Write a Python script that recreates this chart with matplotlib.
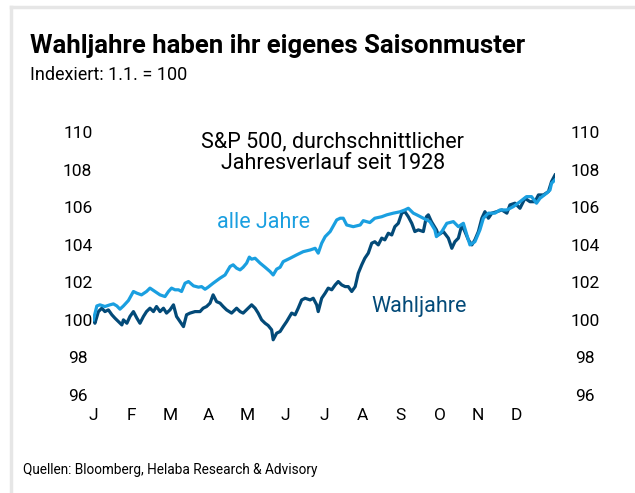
import matplotlib
matplotlib.use("Agg")
import matplotlib.pyplot as plt
from matplotlib.lines import Line2D

plt.rcParams['font.family'] = ['Roboto', 'DejaVu Sans']

# month position (0 = 1 Jan, 12 = end of year) and index level
alle_x = [0.01, 0.10, 0.18, 0.31, 0.44, 0.53, 0.62, 0.70, 0.79, 0.92,
          1.05, 1.14, 1.26, 1.39, 1.48, 1.61, 1.74, 1.87, 1.96, 2.04,
          2.13, 2.22, 2.30, 2.39, 2.48, 2.61, 2.74, 2.82, 2.91, 2.99,
          3.12, 3.30, 3.43, 3.56, 3.64, 3.73, 3.82, 3.90, 3.99, 4.06,
          4.12, 4.21, 4.34, 4.47, 4.60, 4.68, 4.77, 4.86, 4.94, 5.12,
          5.29, 5.46, 5.64, 5.77, 5.85, 5.94, 6.03, 6.16, 6.33, 6.42,
          6.50, 6.59, 6.76, 6.94, 7.02, 7.19, 7.32, 7.50, 7.63, 7.80,
          7.97, 8.10, 8.19, 8.32, 8.41, 8.58, 8.75, 8.88, 8.92, 9.06,
          9.19, 9.36, 9.49, 9.62, 9.71, 9.79, 9.92, 10.05, 10.14, 10.27,
          10.44, 10.57, 10.75, 10.92, 11.09, 11.26, 11.39, 11.52, 11.61, 11.78,
          11.87, 11.91, 12.00]
alle_y = [100.00, 100.74, 100.80, 100.71, 100.80, 100.85, 100.74, 100.57, 100.74, 101.03,
          101.51, 101.42, 101.33, 101.51, 101.69, 101.51, 101.33, 101.24, 101.51, 101.69,
          101.60, 101.60, 101.51, 101.95, 102.04, 101.81, 101.74, 101.77, 101.63, 101.74,
          101.95, 102.22, 102.39, 102.84, 102.93, 102.75, 102.66, 102.80, 103.02, 103.34,
          103.23, 103.28, 103.02, 102.80, 102.57, 102.39, 102.70, 102.80, 103.10, 103.28,
          103.46, 103.63, 103.72, 103.81, 103.55, 104.08, 104.43, 104.70, 105.32, 105.41,
          105.41, 105.05, 104.96, 105.05, 105.28, 105.18, 105.41, 105.49, 105.59, 105.68,
          105.75, 105.85, 105.94, 105.68, 105.59, 105.41, 105.23, 104.79, 104.43, 104.70,
          105.14, 105.23, 104.96, 105.14, 104.52, 103.99, 104.16, 104.79, 105.41, 105.68,
          105.68, 105.85, 105.85, 106.03, 106.29, 106.56, 106.56, 106.21, 106.47, 106.74,
          106.91, 107.27, 107.45]

wahl_x = [0.01, 0.05, 0.14, 0.23, 0.31, 0.40, 0.49, 0.57, 0.66, 0.75,
          0.79, 0.88, 0.96, 1.05, 1.14, 1.22, 1.31, 1.39, 1.48, 1.57,
          1.65, 1.74, 1.83, 1.91, 2.00, 2.09, 2.17, 2.26, 2.35, 2.43,
          2.52, 2.65, 2.78, 2.86, 2.95, 3.04, 3.12, 3.21, 3.30, 3.38,
          3.47, 3.60, 3.73, 3.82, 3.90, 4.03, 4.12, 4.21, 4.29, 4.38,
          4.47, 4.55, 4.64, 4.68, 4.77, 4.86, 4.94, 5.03, 5.16, 5.25,
          5.33, 5.42, 5.51, 5.64, 5.72, 5.81, 5.85, 5.94, 6.03, 6.11,
          6.20, 6.29, 6.37, 6.46, 6.55, 6.63, 6.72, 6.81, 6.89, 6.98,
          7.06, 7.15, 7.24, 7.32, 7.41, 7.50, 7.58, 7.67, 7.76, 7.84,
          7.93, 8.02, 8.10, 8.19, 8.28, 8.36, 8.45, 8.58, 8.66, 8.71,
          8.79, 8.92, 8.97, 9.10, 9.23, 9.32, 9.40, 9.49, 9.58, 9.66,
          9.75, 9.84, 9.92, 10.01, 10.10, 10.18, 10.27, 10.36, 10.49, 10.62,
          10.75, 10.83, 10.96, 11.09, 11.22, 11.35, 11.48, 11.57, 11.70, 11.83,
          11.91, 12.00]
wahl_y = [100.00, 99.82, 100.44, 100.62, 100.44, 100.53, 100.27, 100.09, 99.91, 99.73,
          100.00, 99.82, 100.18, 100.44, 100.09, 99.82, 100.18, 100.44, 100.62, 100.44,
          100.71, 100.44, 100.62, 100.36, 100.53, 100.80, 100.18, 99.91, 99.64, 100.27,
          100.36, 100.44, 100.44, 100.62, 100.71, 100.89, 101.33, 100.97, 100.89, 100.71,
          100.53, 100.36, 100.62, 100.44, 100.36, 100.62, 100.80, 100.62, 100.36, 100.00,
          99.82, 99.70, 99.47, 98.94, 99.29, 99.38, 99.64, 99.91, 100.36, 100.27,
          100.62, 101.06, 101.15, 101.06, 101.15, 100.80, 100.44, 101.15, 101.42, 101.69,
          101.60, 101.86, 102.04, 101.86, 101.77, 101.77, 101.51, 101.77, 102.48, 102.93,
          103.28, 103.55, 104.08, 104.16, 103.99, 104.35, 104.26, 104.61, 104.52, 104.96,
          105.14, 105.68, 105.76, 105.49, 105.14, 104.70, 104.79, 104.70, 105.49, 105.59,
          105.23, 104.79, 104.52, 104.70, 104.35, 103.81, 104.16, 104.35, 105.05, 104.70,
          104.26, 103.99, 104.26, 104.70, 105.41, 105.76, 105.41, 105.68, 105.76, 105.85,
          105.68, 106.12, 106.21, 105.94, 106.47, 106.29, 106.29, 106.65, 106.65, 106.83,
          107.36, 107.71]

months = ['J', 'F', 'M', 'A', 'M', 'J', 'J', 'A', 'S', 'O', 'N', 'D']
y_ticks = [96, 98, 100, 102, 104, 106, 108, 110]

light = '#1a9fe0'
dark = '#034a78'

fig = plt.figure(figsize=(6.35, 4.93), dpi=100)
ax = fig.add_axes([93 / 635, 1 - 395 / 493, 462 / 635, 263 / 493])

ax.plot(wahl_x, wahl_y, color=dark, linewidth=2.3, solid_joinstyle='round')
ax.plot(alle_x, alle_y, color=light, linewidth=2.3, solid_joinstyle='round')

ax.set_xlim(0, 12)
ax.set_ylim(96, 110)
ax.set_xticks(range(12))
ax.set_xticklabels(months)
ax.set_yticks(y_ticks)
ax.set_yticklabels([str(v) for v in y_ticks])
ax.tick_params(axis='both', length=0, labelsize=12.5)
ax.tick_params(axis='x', pad=9)
ax.tick_params(axis='y', labelright=True)
for t in ax.yaxis.get_major_ticks():
    t.label1.set_horizontalalignment('center')
    t.label2.set_horizontalalignment('center')
    t.set_pad(11)
for side in ['top', 'right', 'bottom', 'left']:
    ax.spines[side].set_visible(False)
ax.patch.set_alpha(0)

# right labels sit further out
for t in ax.yaxis.get_major_ticks():
    t.label2.set_x(1.0 + 30 / 462)
    t.label2.set_transform(ax.get_yaxis_transform())

ax.text(6.23, 108.9, 'S&P 500, durchschnittlicher\nJahresverlauf seit 1928',
        ha='center', va='center', fontsize=15.5, color='black', linespacing=1.05)
ax.text(4.44, 105.2, 'alle Jahre', ha='center', va='center', fontsize=15.5, color=light)
ax.text(8.47, 100.69, 'Wahljahre', ha='center', va='center', fontsize=15.5, color=dark)

fig.text(30 / 635, 1 - 46 / 493, 'Wahljahre haben ihr eigenes Saisonmuster',
         fontsize=18.5, fontweight='bold', ha='left', va='center')
fig.text(30 / 635, 1 - 75 / 493, 'Indexiert: 1.1. = 100', fontsize=13, ha='left', va='center')
fig.text(23 / 635, 1 - 470 / 493, 'Quellen: Bloomberg, Helaba Research & Advisory',
         fontsize=9.8, ha='left', va='center')

# light grey frame on top and left
fig.add_artist(Line2D([10.5 / 635, 1], [1 - 7 / 493, 1 - 7 / 493], color='#e6e6e6', linewidth=2.5))
fig.add_artist(Line2D([10.5 / 635, 10.5 / 635], [0, 1 - 7 / 493], color='#e6e6e6', linewidth=2.5))

fig.savefig('out.png', dpi=100)
